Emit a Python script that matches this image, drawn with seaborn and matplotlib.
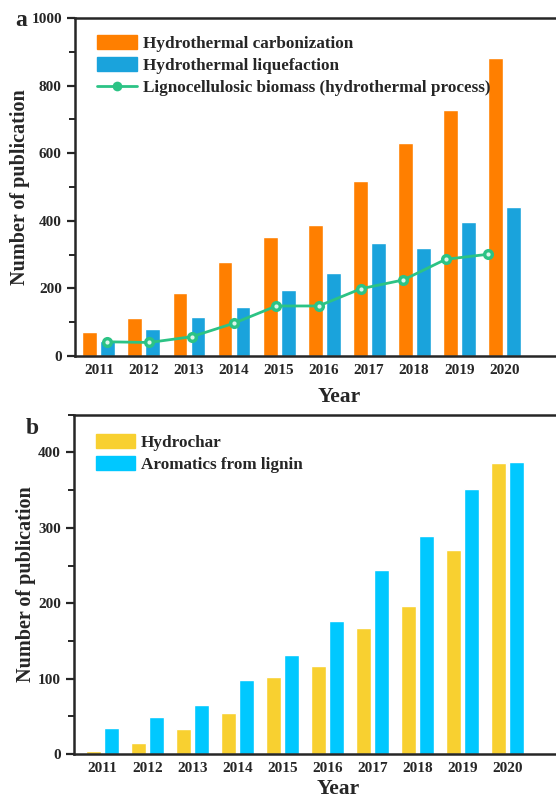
import matplotlib
matplotlib.use("Agg")
import matplotlib.pyplot as plt
import numpy as np
import pandas as pd
import seaborn as sns
from matplotlib.lines import Line2D
from matplotlib.patches import Patch
from matplotlib.ticker import MultipleLocator

# Datos
years = ["2011", "2012", "2013", "2014", "2015", "2016", "2017", "2018", "2019", "2020"]
carbonization = [72, 112, 186, 277, 351, 388, 519, 631, 729, 883]
liquefaction = [45, 79, 114, 146, 196, 245, 334, 321, 396, 440]
lignocellulosic = [42, 40, 57, 97, 148, 148, 199, 225, 286, 301]
hydrochar = [4, 15, 33, 55, 102, 117, 167, 197, 271, 386]
aromatics = [34, 49, 65, 98, 132, 177, 244, 289, 352, 388]

lab_a = ["Hydrothermal carbonization", "Hydrothermal liquefaction",
         "Lignocellulosic biomass (hydrothermal process)"]
lab_b = ["Hydrochar", "Aromatics from lignin"]

c_orange = "#FF7F00"
c_blue = "#1AA3DC"
c_green = "#2CC385"
c_yellow = "#F8D030"
c_cyan = "#00C8FF"

sns.set_style("ticks")
plt.rcParams["font.family"] = ["Liberation Serif", "DejaVu Serif"]
plt.rcParams["font.weight"] = "bold"
plt.rcParams["axes.labelweight"] = "bold"

df_a = pd.DataFrame({"year": years * 2,
                     "n": carbonization + liquefaction,
                     "serie": [lab_a[0]] * 10 + [lab_a[1]] * 10})
df_b = pd.DataFrame({"year": years * 2,
                     "n": hydrochar + aromatics,
                     "serie": [lab_b[0]] * 10 + [lab_b[1]] * 10})

fig = plt.figure(figsize=(5.56, 8), dpi=100)
ax1 = fig.add_axes([0.135, 0.555, 0.95, 0.4225])
ax2 = fig.add_axes([0.133, 0.0575, 0.95, 0.424])

# Panel a
sns.barplot(data=df_a, x="year", y="n", hue="serie", palette=[c_orange, c_blue],
            width=0.8, gap=0.17, saturation=1, ax=ax1, legend=False)
# la linea original esta en una escala un poco distinta a las barras
xl = np.arange(len(years)) * 0.94 + 0.18
sns.lineplot(x=xl, y=lignocellulosic, color=c_green, lw=2, marker="o", ms=8,
             markerfacecolor=c_green, markeredgecolor=c_green, markeredgewidth=0,
             ax=ax1)
sns.lineplot(x=xl, y=lignocellulosic, color="white", lw=0, marker="o", ms=3,
             markeredgewidth=0, alpha=0.85, ax=ax1)
ax1.set_ylim(0, 1000)
ax1.set_xlim(-0.53, 11.2)
ax1.yaxis.set_major_locator(MultipleLocator(200))
ax1.yaxis.set_minor_locator(MultipleLocator(100))

handles_a = [Patch(color=c_orange), Patch(color=c_blue),
             Line2D([], [], color=c_green, lw=2, marker="o", ms=7,
                    markerfacecolor=c_green, markeredgewidth=0)]
ax1.legend(handles_a, lab_a, loc="upper left", frameon=False, fontsize=12.3,
           handlelength=2.3, handleheight=0.9, labelspacing=0.3,
           bbox_to_anchor=(0.01, 1.0), borderaxespad=0.6, handletextpad=0.35)

# Panel b
sns.barplot(data=df_b, x="year", y="n", hue="serie", palette=[c_yellow, c_cyan],
            width=0.8, gap=0.17, saturation=1, ax=ax2, legend=False)
ax2.set_ylim(0, 450)
ax2.set_xlim(-0.64, 11.1)
ax2.yaxis.set_major_locator(MultipleLocator(100))
ax2.yaxis.set_minor_locator(MultipleLocator(50))
handles_b = [Patch(color=c_yellow), Patch(color=c_cyan)]
ax2.legend(handles_b, lab_b, loc="upper left", frameon=False, fontsize=12.3,
           handlelength=2.3, handleheight=0.9, labelspacing=0.32,
           bbox_to_anchor=(0.006, 1.0), borderaxespad=0.7, handletextpad=0.35)

for ax in [ax1, ax2]:
    for s in ax.spines.values():
        s.set_linewidth(1.8)
    ax.tick_params(axis="y", which="major", length=6, width=1.6, labelsize=11, direction="out")
    ax.tick_params(axis="y", which="minor", length=4, width=1.4, direction="out")
    ax.tick_params(axis="x", length=0, labelsize=11, pad=6)
    ax.set_ylabel("Number of publication", fontsize=14.5, labelpad=1)
    for t in ax.get_xticklabels() + ax.get_yticklabels():
        t.set_fontweight("bold")

ax1.set_xlabel("Year", fontsize=15.5, labelpad=7)
ax2.set_xlabel("Year", fontsize=15.5, labelpad=3)

fig.text(0.038, 0.974, "a", fontsize=17, fontweight="bold", ha="center", va="center")
fig.text(0.058, 0.464, "b", fontsize=17, fontweight="bold", ha="center", va="center")

fig.savefig("out.png", dpi=100)
